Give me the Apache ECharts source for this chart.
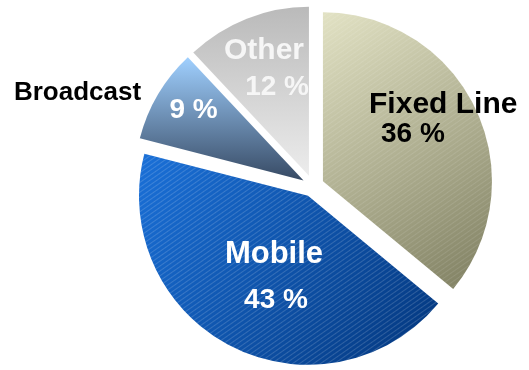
<!DOCTYPE html>
<html>
<head>
<meta charset="utf-8">
<script src="https://cdn.jsdelivr.net/npm/echarts@6/dist/echarts.min.js"></script>
<style>
  html, body { margin: 0; padding: 0; background: #ffffff; }
  #chart { width: 529px; height: 370px; }
</style>
</head>
<body>
<div id="chart"></div>
<script>
// Market split by access technology
const categories = ['Fixed Line', 'Mobile', 'Broadcast', 'Other'];
const shares = [36, 43, 9, 12];
const shareLabels = ['36 %', '43 %', '9 %', '12 %'];

const FONT = '"Liberation Sans", Arial, Helvetica, sans-serif';

// Slice fills: [gradient x2, y2, start colour, end colour]
const sliceFills = [
  [1, 1, '#e2e2c4', '#7e7e60'],
  [1, 1, '#1a70d8', '#03367c'],
  [0, 1, '#a0d0ff', '#374a64'],
  [0, 1, '#bababa', '#ececec']
];

// Fine diagonal hatching on the two large slices
const hatch = (alpha) => ({
  symbol: 'rect',
  symbolSize: 1,
  dashArrayX: [1, 0],
  dashArrayY: [1, 3],
  rotation: -Math.PI * 35 / 180,
  color: 'rgba(255,255,255,' + alpha + ')'
});
const sliceHatch = [hatch(0.10), hatch(0.16), null, null];

// Label text styles: name line and value line
const labelStyles = [
  { n: { fontSize: 30, color: '#000000', lineHeight: 30 }, v: { fontSize: 28, color: '#000000', lineHeight: 30 } },
  { n: { fontSize: 31, color: '#ffffff', lineHeight: 46 }, v: { fontSize: 28, color: '#ffffff', lineHeight: 46 } },
  { n: { fontSize: 26, color: '#000000', lineHeight: 17 }, v: { fontSize: 28, color: '#ffffff', lineHeight: 17 } },
  { n: { fontSize: 30, color: '#f6f6f6', lineHeight: 36 }, v: { fontSize: 28, color: '#f6f6f6', lineHeight: 36 } }
];

// Label placement relative to the slice's inside anchor:
// [block shift x, block shift y, value line shift x relative to name line]
const labelShifts = [
  [41.1, -24.6, -30.3],
  [5.7, 3.2, 2],
  [-150.7, -34.4, 116],
  [-12.7, -25.4, 13]
];

// A centred text box moves by half of an asymmetric padding
function boxPadding(sx, sy) {
  return [sy > 0 ? 2 * sy : 0, sx < 0 ? -2 * sx : 0, sy < 0 ? -2 * sy : 0, sx > 0 ? 2 * sx : 0];
}
function linePadding(lx) {
  return lx > 0 ? [0, 0, 0, 2 * lx] : [0, -2 * lx, 0, 0];
}

const pieData = categories.map((name, i) => {
  const f = sliceFills[i];
  const s = labelStyles[i];
  const sh = labelShifts[i];
  const item = {
    name: name,
    value: shares[i],
    selected: true,
    itemStyle: {
      color: new echarts.graphic.LinearGradient(0, 0, f[0], f[1], [
        { offset: 0, color: f[2] },
        { offset: 1, color: f[3] }
      ])
    },
    label: {
      formatter: '{n|' + name + '}\n{v|' + shareLabels[i] + '}',
      padding: boxPadding(sh[0], sh[1]),
      rich: {
        n: { fontFamily: FONT, fontWeight: 'bold', fontSize: s.n.fontSize, color: s.n.color, lineHeight: s.n.lineHeight },
        v: { fontFamily: FONT, fontWeight: 'bold', fontSize: s.v.fontSize, color: s.v.color, lineHeight: s.v.lineHeight, padding: linePadding(sh[2]) }
      }
    }
  };
  if (sliceHatch[i]) item.itemStyle.decal = sliceHatch[i];
  return item;
});

const chart = echarts.init(document.getElementById('chart'), null, { renderer: 'canvas' });
chart.setOption({
  animation: false,
  backgroundColor: '#ffffff',
  series: [{
    type: 'pie',
    center: [313, 186],
    radius: 169,
    startAngle: 90,
    clockwise: true,
    selectedMode: 'multiple',
    selectedOffset: 11,
    avoidLabelOverlap: false,
    itemStyle: { borderWidth: 0 },
    select: { itemStyle: { borderWidth: 0 } },
    emphasis: { disabled: true },
    label: {
      show: true,
      position: 'inside',
      align: 'center',
      verticalAlign: 'middle'
    },
    labelLine: { show: false },
    labelLayout: { hideOverlap: false },
    data: pieData
  }]
});
</script>
</body>
</html>
